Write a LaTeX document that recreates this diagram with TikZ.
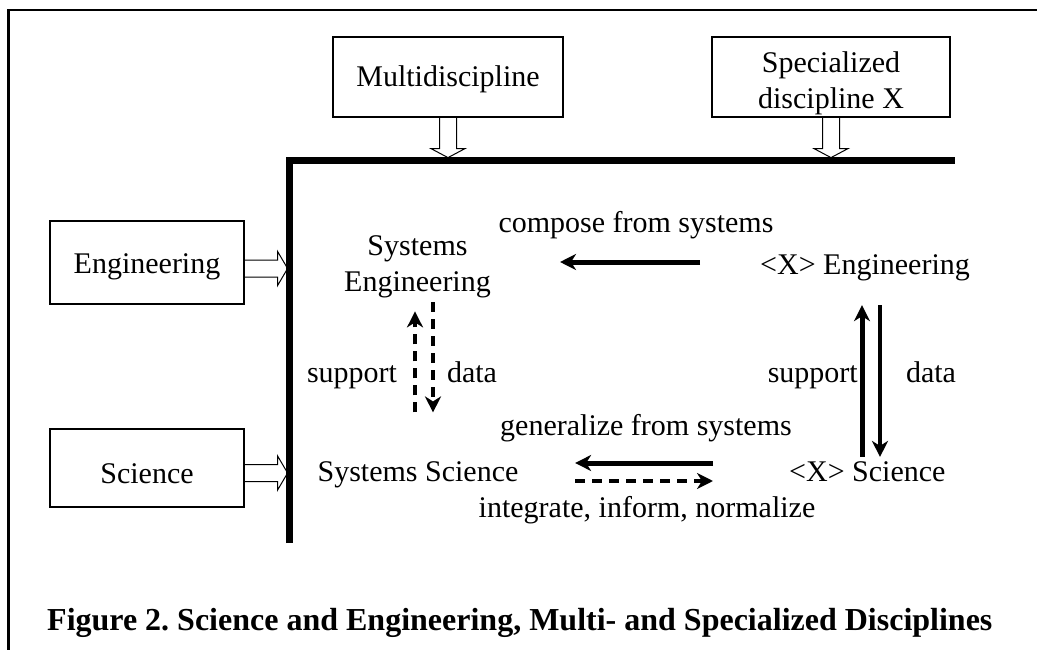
\documentclass[tikz,border=0pt]{standalone}
\usepackage{fontspec}
\setmainfont{Liberation Serif}
\usetikzlibrary{arrows.meta,calc}
\frenchspacing
\tikzset{
  box/.style={draw,line width=1.2pt,inner sep=0pt,font=\fontsize{30}{36}\selectfont,align=center},
  lbl/.style={inner sep=0pt,font=\fontsize{30}{36}\selectfont,align=center},
  tipstyle/.style={-{Stealth[length=16pt,width=16pt,inset=5pt]}},
  solidarr/.style={line width=5pt,tipstyle},
  thinarr/.style={line width=3.5pt,tipstyle},
  dasharr/.style={line width=4.5pt,dash pattern=on 10pt off 7pt,tipstyle},
  hollow/.style={line width=1pt},
  hollowdown/.pic={\draw[hollow] (-8.5,0) -- (-8.5,31) -- (-17,31) -- (0,40) -- (17,31) -- (8.5,31) -- (8.5,0);},
  hollowright/.pic={\draw[hollow] (0,-8.5) -- (33,-8.5) -- (33,-17) -- (43,0) -- (33,17) -- (33,8.5) -- (0,8.5);}
}
\begin{document}
\begin{tikzpicture}[x=1pt,y=-1pt]
\useasboundingbox (0,0) rectangle (1037,650);
% outer frame (top and left)
\draw[line width=2.2pt] (8.5,650) -- (8.5,10) -- (1037,10);
% thick L
\draw[line width=7pt,line join=miter] (289.5,543) -- (289.5,160.5) -- (955,160.5);

% boxes
\node[box,minimum width=230pt,minimum height=80pt,text height=26.5pt,text depth=6.5pt] (md) at (448,77) {Multidiscipline};
\node[box,minimum width=238pt,minimum height=80pt] (sd) at (831,77) {\rule{0pt}{32.5pt}Specialized\\discipline X};
\node[box,minimum width=194pt,minimum height=83pt,text height=27.5pt,text depth=6.5pt] (eng) at (147,262.5) {Engineering};
\node[box,minimum width=194pt,minimum height=78pt,text height=36.5pt,text depth=6.5pt] (sci) at (147,468) {Science};

% hollow arrows
\pic at (md.south) {hollowdown};
\pic at (sd.south) {hollowdown};
\pic at ($(eng.east)+(0,6)$) {hollowright};
\pic at ($(sci.east)+(0,5)$) {hollowright};

% main nodes
\node[lbl] (se) at (417.5,266.5) {Systems\\Engineering};
\node[lbl,anchor=base west] (xe) at (760,274) {<X> Engineering};
\node[lbl,anchor=base] (ss) at (418,481) {Systems Science};
\node[lbl,anchor=base west] (xs) at (789,481) {<X> Science};

% helper coordinates for connector lines
\coordinate (cy) at (0,262);
\coordinate (gy1) at (0,463);
\coordinate (gy2) at (0,481);
\coordinate (lx1) at (415,0);
\coordinate (lx2) at (433,0);
\coordinate (rx1) at (862,0);
\coordinate (rx2) at (880,0);

% horizontal connectors
\draw[solidarr,shorten <=60pt,shorten >=69pt] (xe.west |- cy) -- (se.east |- cy);
\draw[solidarr,shorten <=76pt,shorten >=56.5pt] (xs.west |- gy1) -- (ss.east |- gy1);
\draw[dasharr,shorten <=56.5pt,shorten >=76pt] (ss.east |- gy2) -- (xs.west |- gy2);

% vertical connectors left (dashed)
\draw[dasharr,shorten <=48.5pt,shorten >=13.5pt] (ss.north -| lx1) -- (se.south -| lx1);
\draw[dasharr,shorten <=4.5pt,shorten >=48.5pt] (se.south -| lx2) -- (ss.north -| lx2);

% vertical connectors right (solid)
\draw[solidarr,shorten <=4pt,shorten >=24.5pt] (xs.north -| rx1) -- (xe.south -| rx1);
\draw[thinarr,shorten <=24.5pt,shorten >=4pt] (xe.south -| rx2) -- (xs.north -| rx2);

% labels
\node[lbl,anchor=base] (lcomp) at (636,233) {compose from systems};
\node[lbl,anchor=base] (lgen) at (646,435) {generalize from systems};
\node[lbl,anchor=base] (lint) at (647,517) {integrate, inform, normalize};
\node[lbl,anchor=base] (lsup1) at (352,382) {support};
\node[lbl,anchor=base] (ldat1) at (472,382) {data};
\node[lbl,anchor=base east] (lsup2) at (858,382) {support};
\node[lbl,anchor=base] (ldat2) at (931,382) {data};

% caption
\node[inner sep=0pt,anchor=base west,font=\fontsize{32}{38}\selectfont\bfseries] (cap) at (47,630) {Figure 2. Science and Engineering, Multi- and Specialized Disciplines};
\end{tikzpicture}
\end{document}
